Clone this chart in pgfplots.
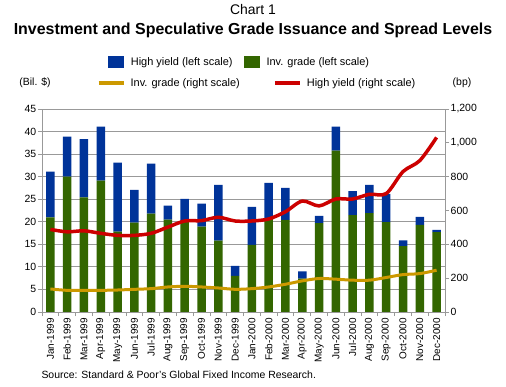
\documentclass[border=0pt]{standalone}
\usepackage{fontspec}
\setmainfont{Liberation Sans}
\usepackage{pgfplots}
\usepackage{pgfplotstable}
\pgfplotsset{compat=1.18}
\definecolor{hyblue}{HTML}{003399}
\definecolor{iggreen}{HTML}{336600}
\definecolor{iggold}{HTML}{CC9900}
\definecolor{hyred}{HTML}{CC0000}
\definecolor{gridgray}{HTML}{999999}

\pgfplotstableread{
x  ig   hy    igs  hys
0  21.0 10.1  136  488
1  30.0  8.9  128  474
2  25.4 12.9  128  480
3  29.1 12.0  128  465
4  17.8 15.3  130  453
5  19.8  7.3  134  453
6  21.8 11.1  138  465
7  20.5  3.1  148  502
8  20.0  5.1  152  538
9  18.9  5.1  148  540
10 15.8 12.4  142  560
11  8.0  2.2  134  538
12 14.9  8.4  138  538
13 20.8  7.8  148  550
14 20.4  7.1  164  593
15  7.4  1.6  184  656
16 19.7  1.6  198  627
17 35.8  5.3  194  668
18 21.5  5.3  188  668
19 21.9  6.3  188  696
20 19.9  6.3  204  700
21 14.6  1.3  221  830
22 19.3  1.8  227  895
23 17.7  0.5  247  1032
}\data

\begin{document}
\begin{tikzpicture}
\useasboundingbox[fill=white] (0,0) rectangle (506bp,387bp);
\begin{axis}[
  at={(42bp,75bp)}, anchor=south west,
  scale only axis, width=403bp, height=203bp,
  xmin=-0.5, xmax=23.5, ymin=0, ymax=45,
  ybar stacked, bar width=8.5bp,
  xtick={-0.5,0.5,...,23.5},
  x tick label as interval,
  xticklabels={Jan-1999,Feb-1999,Mar-1999,Apr-1999,May-1999,Jun-1999,Jul-1999,Aug-1999,Sep-1999,Oct-1999,Nov-1999,Dec-1999,Jan-2000,Feb-2000,Mar-2000,Apr-2000,May-2000,Jun-2000,Jul-2000,Aug-2000,Sep-2000,Oct-2000,Nov-2000,Dec-2000},
  x tick label style={rotate=90, anchor=east, font=\fontsize{10}{12}\selectfont, inner sep=2bp},
  ytick={0,5,...,45},
  y tick label style={font=\fontsize{10.5}{12}\selectfont, inner sep=1.5bp},
  ymajorgrids, grid style={gridgray, line width=0.8bp},
  axis line style={gridgray, line width=0.8bp},
  tick style={gridgray, line width=0.8bp},
  tick align=outside, major tick length=4bp,
  xtick pos=left, ytick pos=left,
  /pgf/number format/assume math mode=true,
  legend columns=2, reverse legend,
  legend style={at={(0.49,1.2315)}, anchor=center, draw=none, fill=none,
    font=\fontsize{11}{12}\selectfont,
    /tikz/every odd column/.append style={column sep=5bp},
    /tikz/every even column/.append style={column sep=9bp}},
]
\addplot[fill=iggreen, draw=none,
  legend image code/.code={\fill[iggreen] (0bp,-6bp) rectangle (16bp,6bp);}]
  table[x=x, y=ig]{\data};
\addplot[fill=hyblue, draw=none,
  legend image code/.code={\fill[hyblue] (0bp,-6bp) rectangle (16bp,6bp);}]
  table[x=x, y=hy]{\data};
\legend{Inv. grade (left scale), High yield (left scale)}
\end{axis}
\begin{axis}[
  at={(42bp,75bp)}, anchor=south west,
  scale only axis, width=403bp, height=203bp,
  xmin=-0.5, xmax=23.5, ymin=0, ymax=1200,
  axis x line=none, axis y line*=right,
  ytick={0,200,...,1200},
  y tick label style={font=\fontsize{10.5}{12}\selectfont, inner sep=1.5bp},
  axis line style={gridgray, line width=0.8bp},
  tick style={gridgray, line width=0.8bp},
  tick align=outside, major tick length=4bp,
  /pgf/number format/.cd, 1000 sep={,}, assume math mode=true, /pgfplots/.cd,
  legend columns=2,
  legend style={at={(0.5335,1.128)}, anchor=center, draw=none, fill=none,
    font=\fontsize{11}{12}\selectfont,
    /tikz/every odd column/.append style={column sep=3bp},
    /tikz/every even column/.append style={column sep=31bp}},
]
\addplot[iggold, line width=3bp, smooth,
  legend image code/.code={\draw[iggold, line width=4bp] (0bp,0bp) -- (25bp,0bp);}]
  table[x=x, y=igs]{\data};
\addplot[hyred, line width=3.5bp, smooth,
  legend image code/.code={\draw[hyred, line width=4bp] (0bp,0bp) -- (25bp,0bp);}]
  table[x=x, y=hys]{\data};
\legend{Inv. grade (right scale), High yield (right scale)}
\end{axis}
\node[font=\fontsize{14}{16}\selectfont] at (253bp,377bp) {Chart 1};
\node[font=\fontsize{16}{18}\bfseries\selectfont] at (253bp,357bp) {Investment and Speculative Grade Issuance and Spread Levels};
\node[font=\fontsize{10.5}{12}\selectfont] at (35bp,304bp) {(Bil. \$)};
\node[font=\fontsize{10.5}{12}\selectfont] at (462bp,304bp) {(bp)};
\node[font=\fontsize{10.5}{12}\selectfont, anchor=west] at (38bp,12bp) {Source: Standard \& Poor's Global Fixed Income Research.};
\end{tikzpicture}
\end{document}
